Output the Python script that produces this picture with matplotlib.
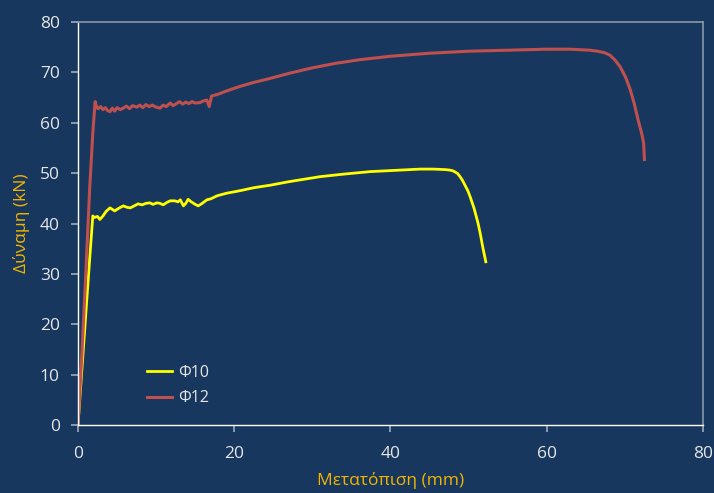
import matplotlib
matplotlib.use("Agg")
import matplotlib.pyplot as plt

# Force-displacement curves of two steel bars
phi10_x = [0, 0.5, 1.0, 1.5, 1.9, 2.1, 2.5, 2.8, 3.2, 3.6, 4.1, 4.7, 5.2, 5.8,
           6.3, 6.7, 7.2, 7.7, 8.2, 8.7, 9.2, 9.6, 10.1, 10.5, 10.9, 11.4, 11.8,
           12.4, 12.8, 13.1, 13.5, 13.8, 14.1, 14.5, 15.0, 15.4, 15.9, 16.5, 17.0,
           17.8, 19.0, 20.7, 22.5, 24.6, 27.0, 29.0, 31.0, 34.0, 37.4, 40.0, 43.8,
           45.5, 47.0, 47.6, 48.0, 48.3, 48.6, 48.9, 49.2, 49.5, 49.9, 50.2, 50.7,
           51.2, 51.5, 51.8, 52.2]
phi10_y = [0, 11, 22, 33, 41.5, 41.2, 41.4, 40.8, 41.5, 42.4, 43.1, 42.5, 43.0, 43.5,
           43.2, 43.1, 43.5, 43.9, 43.7, 44.0, 44.1, 43.8, 44.1, 44.0, 43.7, 44.2, 44.5,
           44.5, 44.3, 44.7, 43.5, 44.0, 44.8, 44.3, 43.8, 43.5, 44.0, 44.7, 44.9,
           45.5, 46.0, 46.5, 47.1, 47.6, 48.3, 48.8, 49.3, 49.8, 50.3, 50.5, 50.8,
           50.8, 50.7, 50.6, 50.45, 50.2, 49.9, 49.3, 48.6, 47.7, 46.5, 45.3, 43.0,
           40.1, 37.9, 35.4, 32.4]

phi12_x = [0, 0.5, 1.0, 1.5, 1.9, 2.2, 2.4, 2.6, 2.9, 3.2, 3.5, 3.8, 4.1, 4.4, 4.7,
           5.0, 5.4, 5.8, 6.2, 6.6, 7.0, 7.5, 7.9, 8.3, 8.7, 9.1, 9.5, 10.0, 10.5,
           10.9, 11.3, 11.8, 12.2, 12.6, 13.0, 13.4, 13.8, 14.2, 14.6, 15.0, 15.6,
           16.0, 16.5, 16.8, 17.1, 18.0, 19.0, 20.7, 22.5, 24.6, 27.0, 30.0, 33.0,
           36.0, 40.0, 45.0, 50.0, 55.0, 60.0, 63.0, 65.5, 66.5, 67.4, 68.1, 68.7,
           69.4, 70.1, 70.7, 71.2, 71.7, 72.1, 72.4, 72.5]
phi12_y = [0, 14, 30, 47, 58, 64.2, 63.0, 62.8, 63.2, 62.6, 63.0, 62.4, 62.2, 62.9, 62.3,
           63.0, 62.6, 62.9, 63.3, 62.8, 63.4, 63.1, 63.5, 63.0, 63.6, 63.2, 63.5, 63.1, 62.9,
           63.5, 63.2, 63.9, 63.4, 63.8, 64.2, 63.7, 64.1, 63.8, 64.2, 63.9, 64.0,
           64.3, 64.5, 63.2, 65.3, 65.7, 66.3, 67.2, 68.0, 68.8, 69.8, 70.9, 71.8,
           72.5, 73.2, 73.8, 74.2, 74.4, 74.6, 74.6, 74.4, 74.2, 73.9, 73.4, 72.5,
           71.1, 69.0, 66.5, 63.8, 60.5, 58.2, 56.0, 52.7]

series_labels = ["Φ10", "Φ12"]
x_ticks = [0, 20, 40, 60, 80]
y_ticks = [0, 10, 20, 30, 40, 50, 60, 70, 80]

bg = "#17375E"
text_col = "#E6E6E6"
label_col = "#F2B400"

plt.rcParams["font.family"] = ["Open Sans", "DejaVu Sans"]

fig = plt.figure(figsize=(7.14, 4.93), dpi=100, facecolor=bg)
ax = fig.add_axes([0.1092, 0.1379, 0.8754, 0.8175], facecolor=bg)

ax.plot(phi10_x, phi10_y, color="#FFFF00", lw=2.0, label=series_labels[0])
ax.plot(phi12_x, phi12_y, color="#C0504D", lw=2.2, label=series_labels[1])

ax.set_xlim(0, 80)
ax.set_ylim(0, 80)
ax.set_xticks(x_ticks)
ax.set_yticks(y_ticks)

for side in ("left", "bottom"):
    ax.spines[side].set_color("white")
    ax.spines[side].set_linewidth(1.0)
for side in ("top", "right"):
    ax.spines[side].set_color("#8A96A8")
    ax.spines[side].set_linewidth(1.2)

ax.tick_params(axis="both", direction="out", length=5, width=1.2, color="#A0A8B8",
               labelcolor=text_col, labelsize=12.5)
ax.tick_params(axis="x", pad=10)
ax.tick_params(axis="y", pad=8)

ax.set_xlabel("Μετατόπιση (mm)", color=label_col, fontsize=12.5, labelpad=7)
ax.set_ylabel("Δύναμη (kN)", color=label_col, fontsize=12.5, labelpad=7)

leg = ax.legend(loc="upper left", bbox_to_anchor=(0.11, 0.15), frameon=False,
                fontsize=11.5, handlelength=1.6, handletextpad=0.35, labelspacing=0.6,
                borderpad=0, borderaxespad=0)
for t in leg.get_texts():
    t.set_color(text_col)

fig.savefig("out.png", dpi=100, facecolor=bg)
